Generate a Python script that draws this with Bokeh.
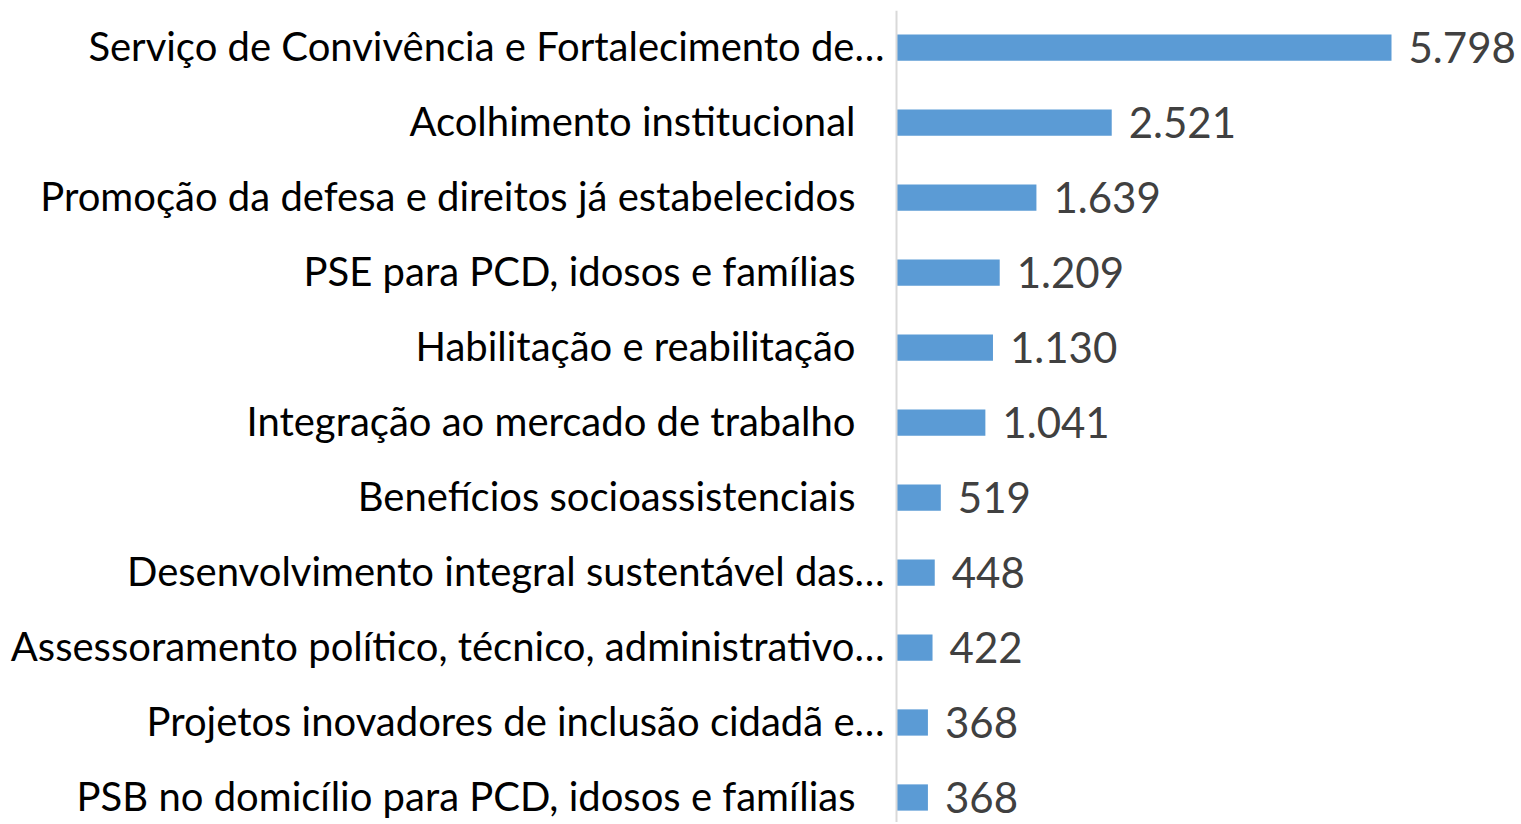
from bokeh.plotting import figure
from bokeh.models import ColumnDataSource, Range1d, Span, LabelSet
from bokeh.core.properties import value
from bokeh.embed import file_html
from bokeh.resources import INLINE

categories = [
    "Serviço de Convivência e Fortalecimento de…",
    "Acolhimento institucional",
    "Promoção da defesa e direitos já estabelecidos",
    "PSE para PCD, idosos e famílias",
    "Habilitação e reabilitação",
    "Integração ao mercado de trabalho",
    "Benefícios socioassistenciais",
    "Desenvolvimento integral sustentável das…",
    "Assessoramento político, técnico, administrativo…",
    "Projetos inovadores de inclusão cidadã e…",
    "PSB no domicílio para PCD, idosos e famílias",
]
values = [5798, 2521, 1639, 1209, 1130, 1041, 519, 448, 422, 368, 368]

W, H = 1519, 822
ZERO_PX = 896
TOP = 10
K = 495 / 5798  # pixels per unit
FONT = value("Lato")

ys = list(range(len(categories)))
value_text = [f"{v:,}".replace(",", ".") for v in values]
label_off = [-(12 if c.endswith("…") else 41) for c in categories]
zeros = [0] * len(categories)

src = ColumnDataSource(dict(y=ys, v=values, vt=value_text, cat=categories,
                            off=label_off, z=zeros))

p = figure(width=W, height=H, output_backend="svg", toolbar_location=None,
           x_range=Range1d(-ZERO_PX / K, (W - ZERO_PX) / K),
           y_range=Range1d(10 + (H - 797) / 75, -(47 - TOP) / 75))
p.min_border_left = 0
p.min_border_right = 0
p.min_border_top = TOP
p.min_border_bottom = 0
p.xaxis.visible = False
p.yaxis.visible = False
p.xgrid.visible = False
p.ygrid.visible = False
p.outline_line_color = None
p.background_fill_color = "white"
p.border_fill_color = "white"

p.hbar(y="y", left=0, right="v", height=0.35, source=src,
       fill_color="#5B9BD5", line_color=None)

p.add_layout(Span(location=0, dimension="height", line_color="#D9D9D9", line_width=2))

p.add_layout(LabelSet(x="v", y="y", text="vt", source=src, x_offset=17,
                      text_font=FONT, text_font_size="42px", text_color="#404040",
                      text_baseline="middle", text_align="left"))

p.add_layout(LabelSet(x="z", y="y", x_offset="off", y_offset=2, text="cat", source=src,
                      text_font=FONT, text_font_size="40px", text_color="#000000",
                      text_baseline="middle", text_align="right"))

open("out.html", "w").write(file_html(p, INLINE))
